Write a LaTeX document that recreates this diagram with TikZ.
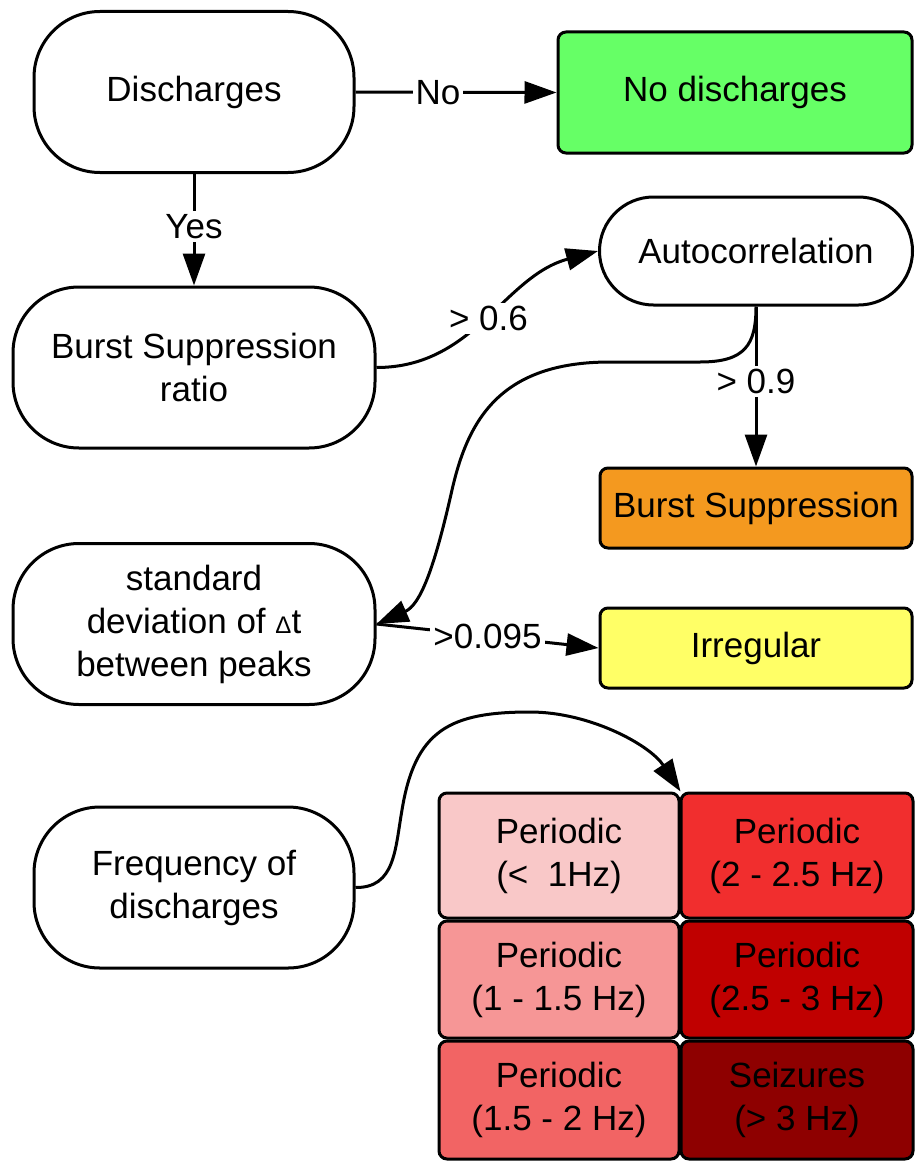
\documentclass[tikz,border=0pt]{standalone}
\usepackage{fontspec}
\setmainfont{Liberation Sans}
\usetikzlibrary{arrows.meta}

\definecolor{nodisgreen}{HTML}{66FF66}
\definecolor{bsorange}{HTML}{F4991F}
\definecolor{irryellow}{HTML}{FFFF66}
\definecolor{perA}{HTML}{F9C8C8}
\definecolor{perB}{HTML}{F69696}
\definecolor{perC}{HTML}{F26464}
\definecolor{perD}{HTML}{F12E2E}
\definecolor{perE}{HTML}{C00000}
\definecolor{perF}{HTML}{8E0000}

\begin{document}
\begin{tikzpicture}
[x=0.5pt,y=-0.5pt,line width=1.5pt,%
  test/.style={draw,rounded corners=33pt,align=center,inner sep=0pt,minimum width=181pt,minimum height=80.5pt},%
  result/.style={draw,rounded corners=4pt,align=center,inner sep=0pt,minimum width=156pt,minimum height=40pt},%
  cell/.style={draw,rounded corners=4pt,align=center,inner sep=0pt,minimum height=58.5pt},%
  lbl/.style={fill=white,inner sep=1.5pt},%
  arr/.style={-{Triangle[length=16pt,width=11pt]}}]
\fontsize{17.5}{21.5}\selectfont
\useasboundingbox (0,0) rectangle (915,1161);
\node[test,minimum width=160pt] (dis) at (194,92) {Discharges};
\node[result,fill=nodisgreen,minimum width=177pt,minimum height=60.5pt] (nodis) at (735,92.5) {No discharges};
\node[test] (bsr) at (194,367.5) {Burst Suppression\\ratio};
\node[test,minimum width=156.5pt,minimum height=54pt,rounded corners=27pt] (auto) at (756,251) {Autocorrelation};
\node[result,fill=bsorange] (bs) at (756,508) {Burst Suppression};
\node[test] (sdev) at (194,624) {standard\\deviation of {\fontsize{12}{12}\selectfont Δ}t\\between peaks};
\node[result,fill=irryellow] (irr) at (756,648) {Irregular};
\node[test,minimum width=160pt] (freq) at (194,887.5) {Frequency of\\discharges};
% frequency classes
\node[cell,fill=perA,minimum width=120pt,minimum height=62.5pt] (p1) at (559,855.5) {Periodic\\(<~ 1Hz)};
\node[cell,fill=perB,minimum width=120pt] (p2) at (559,979.5) {Periodic\\(1 - 1.5 Hz)};
\node[cell,fill=perC,minimum width=120pt,minimum height=59pt] (p3) at (559,1100) {Periodic\\(1.5 - 2 Hz)};
\node[cell,fill=perD,minimum width=116pt,minimum height=62.5pt] (p4) at (797,855.5) {Periodic\\(2 - 2.5 Hz)};
\node[cell,fill=perE,minimum width=116pt] (p5) at (797,979.5) {Periodic\\(2.5 - 3 Hz)};
\node[cell,fill=perF,minimum width=116pt,minimum height=59pt] (p6) at (797,1100) {Seizures\\(> 3 Hz)};
% connectors
\draw[arr] (dis.east) -- node[lbl,pos=0.41] {No} (nodis.west);
\draw[arr] (dis.south) -- node[lbl,pos=0.47] {Yes} (bsr.north);
\draw[arr] (bsr.east) to[out=0,in=195] node[lbl,pos=0.5] {> 0.6} (auto.west);
\draw[arr] (auto.south) -- node[lbl,pos=0.47] {> 0.9} (bs.north);
\draw[arr] (auto.south) .. controls (756,345) and (745,362) .. (700,362) -- (610,362)
  .. controls (500,362) and (468,420) .. (452,490) .. controls (434,570) and (420,605) .. (sdev.east);
\draw[arr] (sdev.east) -- node[lbl,pos=0.5] {>0.095} (irr.west);
\draw[arr] (freq.east) .. controls (395,888) and (395,850) .. (402,810)
  .. controls (415,730) and (450,712) .. (530,712) .. controls (590,712) and (650,745) .. (p1.north east);
\end{tikzpicture}
\end{document}
